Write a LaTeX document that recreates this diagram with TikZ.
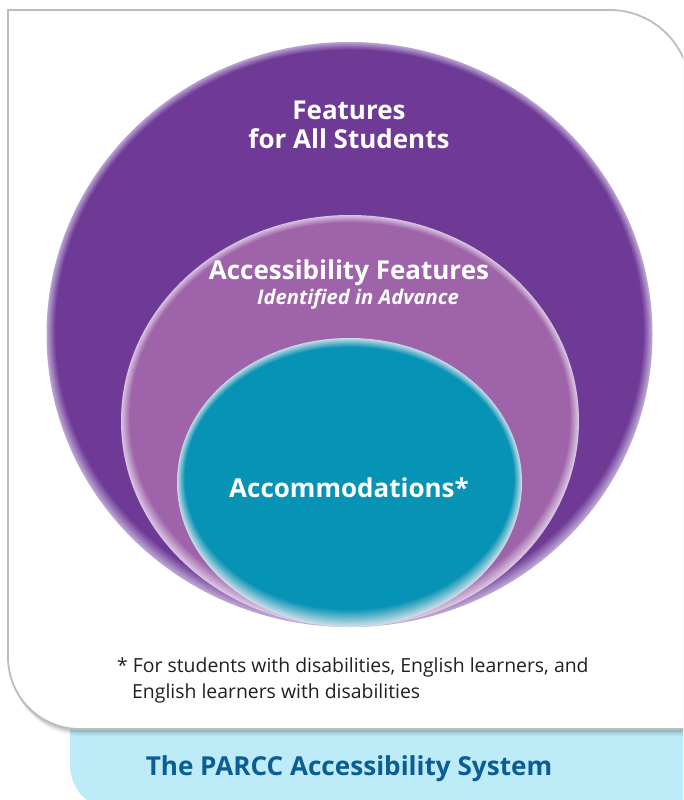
\documentclass[tikz,border=0pt]{standalone}
\usepackage{fontspec}
\setmainfont{Open Sans}
\usetikzlibrary{positioning}

\definecolor{outerpurple}{HTML}{6E3A96}
\definecolor{outerrim}{HTML}{BCA6D4}
\definecolor{midpurple}{HTML}{9E63A8}
\definecolor{midrim}{HTML}{DBC6E4}
\definecolor{innerteal}{HTML}{0793B6}
\definecolor{innerrim}{HTML}{C8DDE7}
\definecolor{panelgray}{HTML}{BDBDBD}
\definecolor{bannerblue}{HTML}{BEEBF8}
\definecolor{titleblue}{HTML}{0B5E93}
\definecolor{notetext}{HTML}{231F20}

\newcommand\panelshape{(8,10) -- (610,10) .. controls (654,10) and (690,46) .. (690,90)
  -- (690,729) -- (80,729) .. controls (40,729) and (8,697) .. (8,657) -- cycle}

\tikzset{
  headtext/.style={text=white, font=\bfseries\fontsize{26}{30}\selectfont, inner sep=0pt, anchor=base},
  subtext/.style={text=white, font=\bfseries\itshape\fontsize{20.2}{24}\selectfont, inner sep=0pt, anchor=base},
  notestyle/.style={text=notetext, font=\fontsize{19.4}{23}\selectfont, inner sep=0pt, anchor=base west},
  titlestyle/.style={text=titleblue, font=\bfseries\fontsize{26.1}{30}\selectfont, inner sep=0pt, anchor=base}
}

\begin{document}
\begin{tikzpicture}[x=1pt, y=-1pt]
\useasboundingbox (0,0) rectangle (683,800);
\clip (0,0) rectangle (683,800);

% banner under the panel
\fill[bannerblue] (70,720) -- (700,720) -- (700,810) -- (115,810)
  .. controls (90,810) and (70,790) .. (70,765) -- cycle;

% panel with its shadow
\foreach \s/\o in {7/0.05,5/0.07,3/0.1} {
  \fill[black, opacity=\o, shift={(\s*0.4,\s)}] \panelshape;
}
\fill[white] \panelshape;
\draw[panelgray, line width=1.8pt] \panelshape;

% the three discs, light rim fading in
\foreach \k/\m in {0/0,1/9,2/18,3/27,4/36,5/45,6/55,7/64,8/73,9/82,10/91,11/100,12/100} {
  \fill[outerpurple!\m!outerrim] (349.5,334.5-\k*0.3) ellipse [x radius=303-\k*0.8, y radius=292.5-\k];
}
\foreach \k/\m in {0/0,1/9,2/18,3/27,4/36,5/45,6/55,7/64,8/73,9/82,10/91,11/100,12/100} {
  \fill[midpurple!\m!midrim] (350,421-\k*0.3) ellipse [x radius=229-\k*0.8, y radius=206-\k];
}
\foreach \k/\m in {0/0,1/8,2/15,3/23,4/31,5/38,6/46,7/54,8/62,9/69,10/77,11/85,12/92,13/100,14/100} {
  \fill[innerteal!\m!innerrim] (349.5,482.5-\k*0.3) ellipse [x radius=172.5-\k*0.6, y radius=144.5-\k];
}

% texts
\node[headtext] (feat) at (349,119) {Features};
\node[headtext] (allstud) at (349,148) {for All Students};
\node[headtext] (access) at (349,279) {Accessibility Features};
\node[subtext] (ident) at (358,304) {Identified in Advance};
\node[headtext] (accom) at (349,497) {Accommodations*};

\node[notestyle] (note1) at (117,672) {* For students with disabilities, English learners, and};
\node[notestyle] (note2) at (132,698) {English learners with disabilities};

\node[titlestyle] (title) at (349,775) {The PARCC Accessibility System};
\end{tikzpicture}
\end{document}
